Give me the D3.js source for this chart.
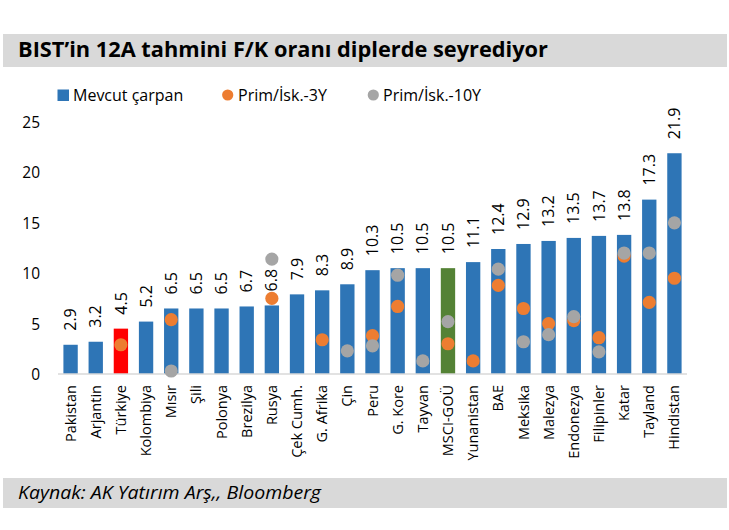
<!DOCTYPE html>
<html>
<head>
<meta charset="utf-8">
<script src="https://cdn.jsdelivr.net/npm/d3@7"></script>
<style>
  html, body { margin: 0; padding: 0; background: #ffffff; }
  svg { display: block; font-family: "Open Sans", "Noto Sans", sans-serif; }
</style>
</head>
<body>
<svg id="chart" width="729" height="530"></svg>
<script>
const titleText = "BIST\u2019in 12A tahmini F/K oranı diplerde seyrediyor";
const sourceText = "Kaynak: AK Yatırım Arş,, Bloomberg";

const categories = ["Pakistan","Arjantin","Türkiye","Kolombiya","Mısır","Şili","Polonya","Brezilya","Rusya","Çek Cumh.","G. Afrika","Çin","Peru","G. Kore","Tayvan","MSCI-GOÜ","Yunanistan","BAE","Meksika","Malezya","Endonezya","Filipinler","Katar","Tayland","Hindistan"];
const currentMultiple = [2.9,3.2,4.5,5.2,6.5,6.5,6.5,6.7,6.8,7.9,8.3,8.9,10.3,10.5,10.5,10.5,11.1,12.4,12.9,13.2,13.5,13.7,13.8,17.3,21.9];
const premium3Y = [null,null,2.9,null,5.4,null,null,null,7.5,null,3.4,null,3.8,6.7,null,3.0,1.3,8.8,6.5,5.0,5.3,3.6,11.7,7.1,9.5];
const premium10Y = [null,null,null,null,0.3,null,null,null,11.4,null,null,2.3,2.8,9.8,1.3,5.2,null,10.4,3.2,3.9,5.7,2.2,12.0,12.0,15.0];
const yTicks = [0,5,10,15,20,25];
const seriesNames = ["Mevcut çarpan","Prim/İsk.-3Y","Prim/İsk.-10Y"];

const colBlue = "#2e75b6", colOrange = "#ed7d31", colGray = "#a5a5a5";
const colRed = "#ff0000", colGreen = "#548235";
function barColor(cat) {
  if (cat === "Türkiye") return colRed;
  if (cat === "MSCI-GOÜ") return colGreen;
  return colBlue;
}

const svg = d3.select("#chart");

// Title band
svg.append("rect").attr("x", 3).attr("y", 34).attr("width", 724).attr("height", 33).attr("fill", "#d9d9d9");
svg.append("text").attr("x", 18).attr("y", 57)
  .attr("font-size", 21).attr("font-weight", "bold").attr("fill", "#000")
  .attr("textLength", 530).attr("lengthAdjust", "spacingAndGlyphs")
  .text(titleText);

// Footer band
svg.append("rect").attr("x", 3).attr("y", 478).attr("width", 724).attr("height", 30).attr("fill", "#d9d9d9");
svg.append("text").attr("x", 18).attr("y", 499)
  .attr("font-size", 18).attr("font-style", "italic").attr("fill", "#000")
  .attr("textLength", 303).attr("lengthAdjust", "spacingAndGlyphs")
  .text(sourceText);

// Scales
const x = d3.scaleBand().domain(categories).range([58, 687]).paddingInner(0.43).paddingOuter(0.215);
const y = d3.scaleLinear().domain([0, 25]).range([374, 122]);

// Y axis (labels only)
const yAxis = d3.axisLeft(y).tickValues(yTicks).tickSize(0).tickPadding(0).tickFormat(d3.format("d"));
const yg = svg.append("g").attr("transform", "translate(40,0)").call(yAxis);
yg.select(".domain").remove();
yg.selectAll("text").attr("font-size", 15.5).attr("fill", "#000").attr("font-family", "Open Sans, sans-serif").attr("dy", "0.35em");

// Bars
const data = categories.map((c, i) => ({ cat: c, v: currentMultiple[i], p3: premium3Y[i], p10: premium10Y[i] }));
svg.append("g").selectAll("rect").data(data).join("rect")
  .attr("x", d => x(d.cat)).attr("width", x.bandwidth())
  .attr("y", d => y(d.v)).attr("height", d => y(0) - y(d.v))
  .attr("fill", d => barColor(d.cat));

// Baseline
svg.append("line").attr("x1", 58).attr("x2", 687).attr("y1", y(0)).attr("y2", y(0))
  .attr("stroke", "#d9d9d9").attr("stroke-width", 1.5);

// Value labels
svg.append("g").selectAll("text").data(data).join("text")
  .attr("transform", d => `translate(${x(d.cat) + x.bandwidth() / 2},${y(d.v) - 14}) rotate(-90)`)
  .attr("dy", "0.35em").attr("text-anchor", "start")
  .attr("font-size", 16).attr("fill", "#000")
  .text(d => d3.format(".1f")(d.v));

// Dots: orange first, gray on top
const r = 6.6;
svg.append("g").selectAll("circle").data(data.filter(d => d.p3 !== null)).join("circle")
  .attr("cx", d => x(d.cat) + x.bandwidth() / 2).attr("cy", d => y(d.p3)).attr("r", r).attr("fill", colOrange);
svg.append("g").selectAll("circle").data(data.filter(d => d.p10 !== null)).join("circle")
  .attr("cx", d => x(d.cat) + x.bandwidth() / 2).attr("cy", d => y(d.p10)).attr("r", r).attr("fill", colGray);

// X axis labels
const xAxis = d3.axisBottom(x).tickSize(0).tickPadding(0);
const xg = svg.append("g").attr("transform", `translate(0,${y(0)})`).call(xAxis);
xg.select(".domain").remove();
xg.selectAll("text")
  .attr("font-size", 14.5).attr("fill", "#000").attr("font-family", "Open Sans, sans-serif")
  .attr("text-anchor", "end")
  .attr("transform", "translate(0,11) rotate(-90)")
  .attr("x", 0).attr("y", 0).attr("dy", "0.35em");

// Legend
const lg = svg.append("g").attr("font-size", 16).attr("fill", "#000");
lg.append("rect").attr("x", 57.5).attr("y", 89.5).attr("width", 11.5).attr("height", 11.5).attr("fill", colBlue);
lg.append("text").attr("x", 73).attr("y", 101).text(seriesNames[0]);
lg.append("circle").attr("cx", 227.7).attr("cy", 95).attr("r", 5.6).attr("fill", colOrange);
lg.append("text").attr("x", 238).attr("y", 101).text(seriesNames[1]);
lg.append("circle").attr("cx", 373.3).attr("cy", 95).attr("r", 5.6).attr("fill", colGray);
lg.append("text").attr("x", 383).attr("y", 101).text(seriesNames[2]);
</script>
</body>
</html>
